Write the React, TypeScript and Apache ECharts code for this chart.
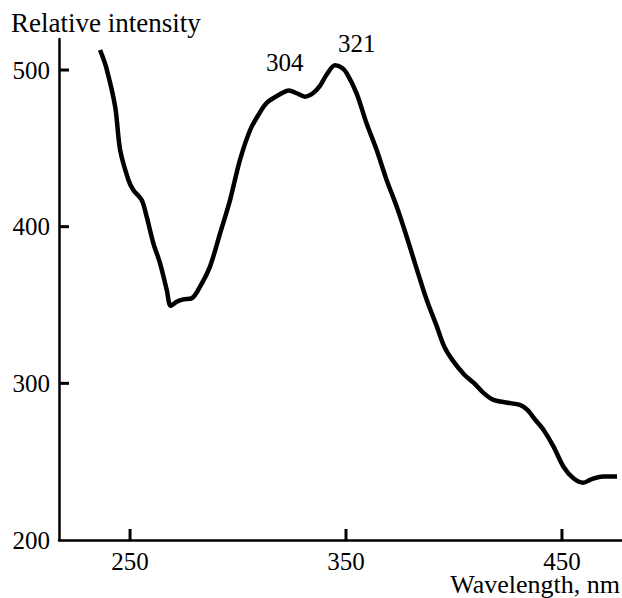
import React, { useEffect, useRef } from "react";
import * as echarts from "echarts";

const wavelengths = [
  236.1, 238.9, 243.1, 245.4, 249.2, 251.5, 255.4, 257.7, 260.8, 263.9, 267.0, 268.8,
  271.6, 274.7, 278.6, 282.4, 287.0, 291.7, 296.3, 300.9, 305.6, 309.4, 313.3, 319.4,
  323.5, 327.5, 331.0, 335.0, 338.0, 341.0, 344.9, 348.0, 350.3, 354.9, 359.5, 364.2,
  368.8, 373.5, 378.1, 382.3, 387.3, 392.0, 395.5, 399.2, 404.8, 409.4, 413.9, 418.3,
  424.9, 430.5, 434.0, 437.5, 441.5, 446.1, 450.7, 455.3, 459.9, 463.5, 469.0, 475.5,
];
const intensity = [
  512.8, 502, 476.6, 449, 430, 423.4, 417, 406.4, 389.4, 376.6, 359.6, 349.5,
  352.1, 353.6, 354.3, 361.7, 374.5, 395.8, 417, 442.6, 461.7, 471.3, 479, 484.5,
  487, 485, 483, 485.5, 490, 497, 503, 501.5, 498, 485.1, 466, 448.9,
  429.8, 412.7, 393.6, 375, 353.5, 336.5, 323.4, 315, 305.5, 300, 293.6, 289.4,
  287.6, 286.2, 283, 277, 270.2, 259.6, 246.8, 239.4, 236.6, 238.7, 240.6, 240.6,
];
const xTicks = [250, 350, 450];
const yTicks = [200, 300, 400, 500];
const peakLabels = ["304", "321"];
const xName = "Wavelength, nm";
const yName = "Relative intensity";

const X_MIN = 217.1;
const X_MAX = 477.8;
const Y_MIN = 200;
const Y_MAX = 519.8;

const FONT = '"Liberation Serif", "Times New Roman", serif';

export default function App() {
  const ref = useRef<HTMLDivElement>(null);
  useEffect(() => {
    document.body.style.margin = "0";
    if (!ref.current) return;
    const chart = echarts.init(ref.current, undefined, { renderer: "svg" });
    const data = wavelengths.map((w, i) => [w, intensity[i]]);
    // tick items: [x, y, kind] where kind 0 = x-axis tick, 1 = y-axis tick
    const tickData = [
      ...xTicks.map((t) => [t, Y_MIN, 0]),
      ...yTicks.filter((t) => t > Y_MIN).map((t) => [X_MIN, t, 1]),
    ];
    chart.setOption({
      animation: false,
      backgroundColor: "#ffffff",
      grid: { left: 59, top: 39, right: 0, bottom: 58, containLabel: false },
      xAxis: {
        type: "value",
        min: X_MIN,
        max: X_MAX,
        axisLine: { show: true, lineStyle: { color: "#000", width: 2.5 } },
        axisTick: { show: false },
        axisLabel: { color: "#000", fontFamily: FONT, fontSize: 25, margin: 9, customValues: xTicks },
        splitLine: { show: false },
      },
      yAxis: {
        type: "value",
        min: Y_MIN,
        max: Y_MAX,
        axisLine: { show: true, lineStyle: { color: "#000", width: 2.5 } },
        axisTick: { show: false },
        axisLabel: { color: "#000", fontFamily: FONT, fontSize: 25, margin: 9, customValues: yTicks },
        splitLine: { show: false },
      },
      graphic: [
        { type: "text", left: 11, top: 9, style: { text: yName, fill: "#000", font: `27px ${FONT}` } },
        { type: "text", right: 2, top: 571, style: { text: xName, fill: "#000", font: `26px ${FONT}` } },
        { type: "text", left: 266, top: 50, style: { text: peakLabels[0], fill: "#000", font: `25px ${FONT}` } },
        { type: "text", left: 338, top: 31, style: { text: peakLabels[1], fill: "#000", font: `25px ${FONT}` } },
      ],
      series: [
        {
          type: "line",
          data,
          smooth: 0.3,
          showSymbol: false,
          lineStyle: { color: "#000", width: 4.5 },
        },
        {
          type: "custom",
          data: tickData,
          silent: true,
          clip: false,
          z: 10,
          encode: { x: 0, y: 1 },
          renderItem: (params: any, api: any) => {
            const p = api.coord([api.value(0), api.value(1)]);
            const vertical = api.value(2) === 0;
            return {
              type: "rect",
              shape: vertical
                ? { x: p[0] - 1.5, y: p[1] - 11, width: 3, height: 11 }
                : { x: p[0], y: p[1] - 1.5, width: 10, height: 3 },
              style: { fill: "#000" },
            };
          },
        },
      ],
    });
    return () => chart.dispose();
  }, []);
  return <div ref={ref} style={{ width: 622, height: 598 }} />;
}
